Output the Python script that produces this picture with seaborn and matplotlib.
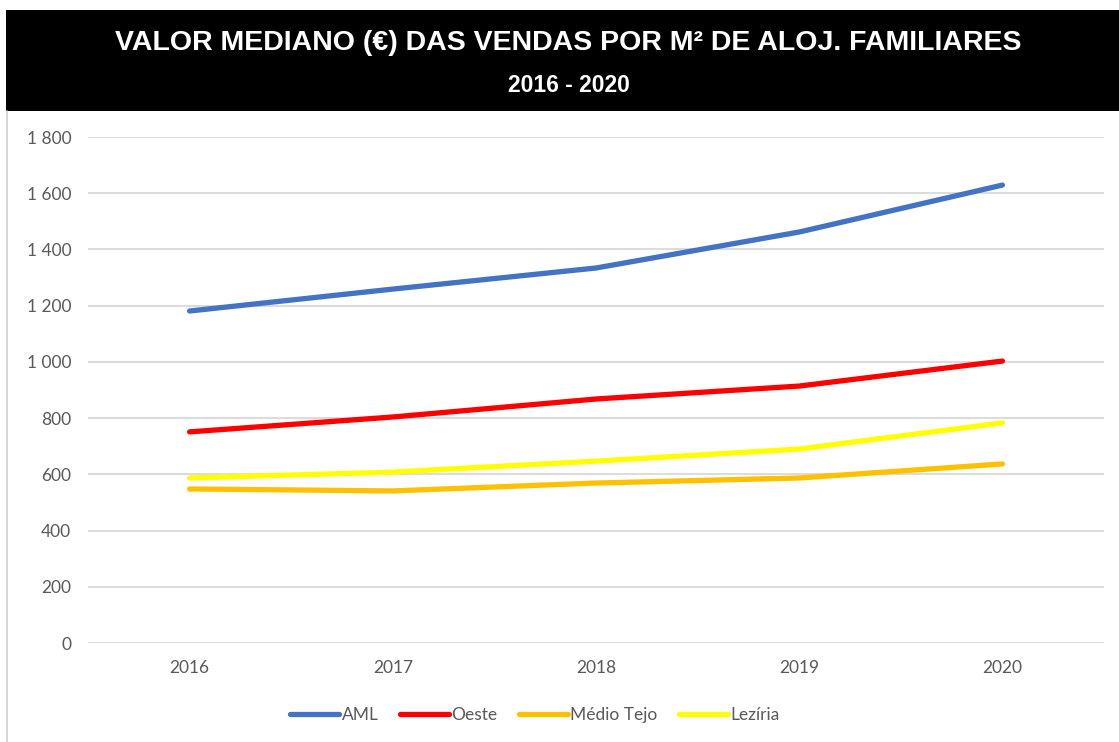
import matplotlib
matplotlib.use("Agg")
import matplotlib.pyplot as plt
from matplotlib.ticker import FuncFormatter
from matplotlib.patches import Rectangle
from matplotlib.lines import Line2D
import seaborn as sns
import pandas as pd

# Median sale value (€) per m² of family dwellings
years = [2016, 2017, 2018, 2019, 2020]
aml = [1181, 1259, 1334, 1462, 1629]
oeste = [751, 804, 868, 914, 1003]
medio_tejo = [548, 541, 569, 587, 637]
leziria = [587, 608, 647, 690, 783]

regions = ["AML", "Oeste", "Médio Tejo", "Lezíria"]
colors = ["#4472C4", "#FF0000", "#FFC000", "#FFFF00"]
yticks = [0, 200, 400, 600, 800, 1000, 1200, 1400, 1600, 1800]

series = {"AML": aml, "Oeste": oeste, "Médio Tejo": medio_tejo, "Lezíria": leziria}
df = pd.DataFrame(
    [(y, r, v) for r in regions for y, v in zip(years, series[r])],
    columns=["Ano", "Região", "Valor"],
)

sns.set_theme(style="white")
plt.rcParams["font.family"] = ["Lato", "DejaVu Sans"]

fig = plt.figure(figsize=(11.19, 7.42), dpi=100)
fig.patch.set_facecolor("white")

# title banner
fig.patches.append(Rectangle((6 / 1119, 1 - 111 / 742), 1 - 6 / 1119, 101 / 742,
                             transform=fig.transFigure, facecolor="black",
                             edgecolor="none", zorder=0))
fig.lines.append(Line2D([6.5 / 1119, 6.5 / 1119], [0, 1 - 111 / 742],
                        transform=fig.transFigure, color="#D0D0D0", lw=1.2))
fig.text(568 / 1119, 1 - 43 / 742,
         "VALOR MEDIANO (€) DAS VENDAS POR M² DE ALOJ. FAMILIARES",
         color="white", fontsize=20.5, fontweight="bold", ha="center", va="center",
         family=["Liberation Sans", "DejaVu Sans"])
fig.text(569 / 1119, 1 - 85 / 742, "2016 - 2020",
         color="white", fontsize=16.5, fontweight="bold", ha="center", va="center",
         family=["Liberation Sans", "DejaVu Sans"])

ax = fig.add_axes([88 / 1119, 1 - 643 / 742, (1104 - 88) / 1119, (643 - 137) / 742])
sns.lineplot(data=df, x="Ano", y="Valor", hue="Região", hue_order=regions,
             palette=colors, linewidth=3.8, ax=ax, legend=False,
             solid_capstyle="round")

ax.set_xlim(2015.5, 2020.5)
ax.set_ylim(0, 1800)
ax.set_xticks(years)
ax.set_yticks(yticks)
ax.yaxis.set_major_formatter(FuncFormatter(lambda v, p: f"{int(v):,}".replace(",", " ")))
ax.grid(axis="y", color="#D9D9D9", linewidth=1.3)
ax.set_axisbelow(True)
for s in ax.spines.values():
    s.set_visible(False)
ax.tick_params(axis="both", length=0, labelsize=12.5, colors="#595959")
ax.tick_params(axis="y", pad=12)
ax.tick_params(axis="x", pad=12)
ax.set_xlabel("")
ax.set_ylabel("")

handles = [Line2D([0], [0], color=c, lw=3.8, solid_capstyle="round") for c in colors]
fig.legend(handles, regions, loc="center", bbox_to_anchor=(535 / 1119, 1 - 715 / 742),
           ncol=4, frameon=False, fontsize=12.5, handlelength=2.8, handletextpad=0.15,
           columnspacing=1.25, labelcolor="#595959")

fig.savefig("out.png", dpi=100, facecolor="white")
